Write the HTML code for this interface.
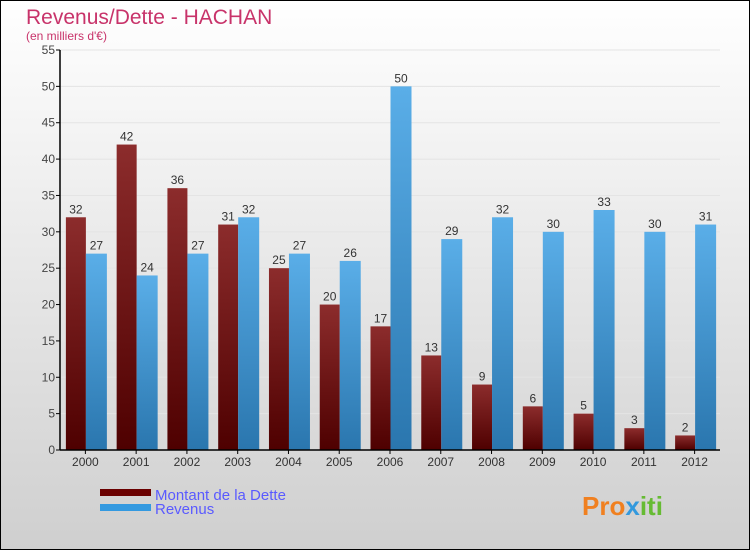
<!DOCTYPE html>
<html><head><meta charset="utf-8"><style>
body{margin:0}
svg text{font-family:"Liberation Sans",sans-serif}
</style></head><body>
<svg id="chart" width="750" height="550" xmlns="http://www.w3.org/2000/svg">
<defs>
<linearGradient id="bg" x1="0" y1="0" x2="0" y2="1"><stop offset="0" stop-color="#ffffff"/><stop offset="1" stop-color="#cfcfcf"/></linearGradient>
<linearGradient id="gd" x1="0" y1="0" x2="0" y2="1"><stop offset="0" stop-color="#8c2c2c"/><stop offset="1" stop-color="#4e0000"/></linearGradient>
<linearGradient id="gr" x1="0" y1="0" x2="0" y2="1"><stop offset="0" stop-color="#5aaee8"/><stop offset="1" stop-color="#2a76ae"/></linearGradient>
</defs>
<rect x="0.5" y="0.5" width="749" height="549" fill="url(#bg)" stroke="#000"/>
<text x="26" y="24" font-size="21" fill="#c8336a">Revenus/Dette - HACHAN</text>
<text x="26" y="40" font-size="12" fill="#c8336a">(en milliers d'€)</text>
<g id="plot"></g>
<rect x="100" y="489" width="51" height="7" fill="#6a0000"/>
<rect x="100" y="504" width="51" height="7" fill="#3399e0"/>
<text x="155" y="500" font-size="15" fill="#5a5aff">Montant de la Dette</text>
<text x="155" y="514" font-size="15" fill="#5a5aff">Revenus</text>
<text x="582" y="515" font-size="26" font-weight="bold" fill="#f08020">Pro<tspan fill="#3399dd">x</tspan><tspan fill="#66bb33">iti</tspan></text>
</svg>
<script>
const years=["2000","2001","2002","2003","2004","2005","2006","2007","2008","2009","2010","2011","2012"];
const dette=[32,42,36,31,25,20,17,13,9,6,5,3,2];
const revenus=[27,24,27,32,27,26,50,29,32,30,33,30,31];
const yTicks=[0,5,10,15,20,25,30,35,40,45,50,55];
const NS="http://www.w3.org/2000/svg";
const g=document.getElementById("plot");
const X0=60,X1=720,Y0=450,Y1=50,YMAX=55;
const bw=(X1-X0)/years.length;
function y(v){return Y0-(v/YMAX)*(Y0-Y1);}
function xc(i){return X0+bw*(i+0.5);}
function mk(t,a){const e=document.createElementNS(NS,t);for(const k in a)e.setAttribute(k,a[k]);g.appendChild(e);return e;}
yTicks.forEach(v=>{
  const gl=mk("line",{x1:X0,x2:X1,y1:y(v),y2:y(v),stroke:"#e4e4e4","stroke-width":1});
  
  
  const tk=mk("line",{x1:X0-4,x2:X0,y1:y(v),y2:y(v),stroke:"#000"});
  
  
  const t=mk("text",{x:X0-5,y:y(v)+4,"font-size":12,fill:"#444","text-anchor":"end"});
  t.textContent=v;
  
  
});
years.forEach((yr,i)=>{
  const c=xc(i);
  const b1=mk("rect",{x:c-19.5,y:y(dette[i]),width:20,height:Y0-y(dette[i]),fill:"url(#gd)"});
  
  
  const b2=mk("rect",{x:c+0.5,y:y(revenus[i]),width:21,height:Y0-y(revenus[i]),fill:"url(#gr)"});
  
  
  const l1=mk("text",{x:c-9.5,y:y(dette[i])-4,"font-size":12,fill:"#333","text-anchor":"middle"});
  l1.textContent=dette[i];
  
  
  const l2=mk("text",{x:c+11,y:y(revenus[i])-4,"font-size":12,fill:"#333","text-anchor":"middle"});
  l2.textContent=revenus[i];
  
  
  const xt=mk("line",{x1:c,x2:c,y1:Y0,y2:Y0+4,stroke:"#000"});
  
  
  const xl=mk("text",{x:c,y:Y0+16,"font-size":12,fill:"#333","text-anchor":"middle"});
  xl.textContent=yr;
  
  
});
const ax=mk("line",{x1:X0,x2:X0,y1:Y1,y2:Y0,stroke:"#000","stroke-width":1.5});


const axx=mk("line",{x1:X0,x2:X1,y1:Y0,y2:Y0,stroke:"#000","stroke-width":1.5});


</script>
</body></html>
